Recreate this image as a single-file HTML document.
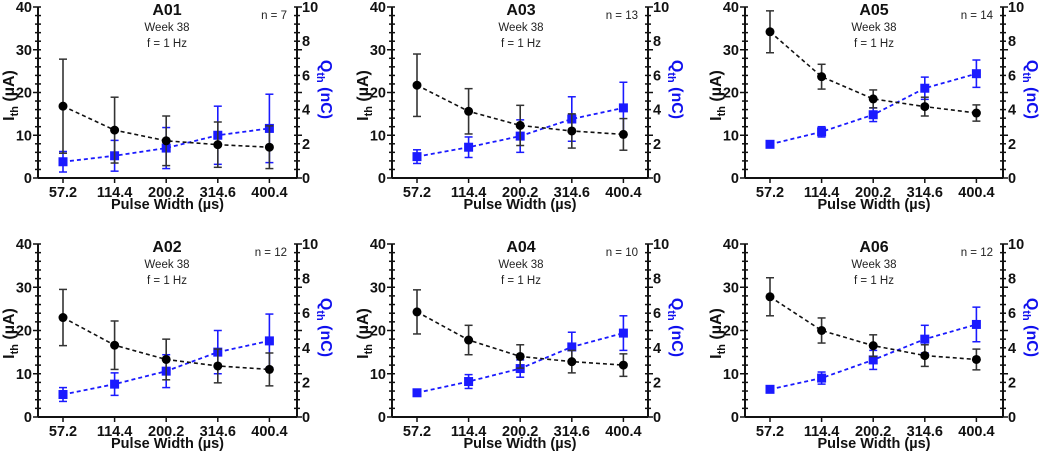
<!DOCTYPE html>
<html><head><meta charset="utf-8"><style>
html,body{margin:0;padding:0;background:#fff;}
svg{display:block;font-family:"Liberation Sans",Arial,sans-serif;}
</style></head><body>
<svg id="fig" width="1041" height="452" viewBox="0 0 1041 452"></svg>
<script>
const categories = ["57.2","114.4","200.2","314.6","400.4"];
const panelNames = ["A01","A02","A03","A04","A05","A06"];
const nCounts = [7,12,13,10,14,12];
const iMean = [
 [16.8,11.2,8.7,7.8,7.2],
 [23,16.6,13.3,11.8,11],
 [21.7,15.6,12.3,11,10.2],
 [24.3,17.8,14,12.8,12],
 [34.2,23.7,18.5,16.7,15.2],
 [27.8,20,16.5,14.2,13.3]];
const iErr = [
 [11,7.7,5.8,5.3,5],
 [6.5,5.6,4.7,3.9,3.8],
 [7.3,5.3,4.7,4,3.7],
 [5.1,3.4,2.7,2.6,2.6],
 [4.9,2.9,2.1,2.2,1.9],
 [4.4,2.9,2.5,2.5,2.4]];
const qMean = [
 [0.95,1.3,1.75,2.5,2.9],
 [1.3,1.9,2.65,3.75,4.4],
 [1.25,1.8,2.45,3.45,4.1],
 [1.4,2.05,2.8,4.05,4.85],
 [1.97,2.7,3.7,5.25,6.1],
 [1.6,2.25,3.3,4.5,5.35]];
const qErr = [
 [0.6,0.9,1.2,1.7,2.0],
 [0.4,0.65,0.95,1.25,1.55],
 [0.4,0.6,0.95,1.3,1.5],
 [0.2,0.4,0.5,0.85,1.0],
 [0.2,0.3,0.4,0.65,0.8],
 [0.1,0.35,0.55,0.8,1.0]];
const leftTicks = [0,10,20,30,40];
const rightTicks = [0,2,4,6,8,10];

const NS="http://www.w3.org/2000/svg";
const svg=document.getElementById('fig');
function mk(tag,attrs,parent,txt){const e=document.createElementNS(NS,tag);for(const k in attrs)e.setAttribute(k,attrs[k]);if(txt!==undefined)e.textContent=txt;(parent||svg).appendChild(e);return e;}

const lefts=[38,38,392,392,745,745];
const rights=[297,297,648,648,1003,1003];
const tops=[7,244,7,244,7,244];
const bottoms=[178,417,178,417,178,417];

panelNames.forEach((name,p)=>{
  const g=mk('g',{});
  
  
  const L=lefts[p],R=rights[p],T=tops[p],B=bottoms[p];
  const yI=v=>B-(v/40)*(B-T);
  const yQ=v=>B-(v/10)*(B-T);
  const xC=i=>L+25+i*51.6;
  const ax=mk('g',{},g);
  
  
  mk('line',{x1:L,y1:T,x2:L,y2:B,stroke:'#111','stroke-width':2},ax);
  mk('line',{x1:R,y1:T,x2:R,y2:B,stroke:'#111','stroke-width':2},ax);
  mk('line',{x1:L,y1:B,x2:R,y2:B,stroke:'#111','stroke-width':2},ax);
  for(let v=0;v<=40;v+=2){
    const y=yI(v),maj=v%10===0;
    mk('line',{x1:L-(maj?5:3),y1:y,x2:L+3,y2:y,stroke:'#111','stroke-width':1.5},ax);
    mk('line',{x1:R-3,y1:y,x2:R+(maj?5:3),y2:y,stroke:'#111','stroke-width':1.5},ax);
  }
  leftTicks.forEach(v=>{
    const t=mk('text',{x:L-6,y:yI(v)+5,'text-anchor':'end','font-size':14.5,'font-weight':'bold',fill:'#111'},ax,String(v));
    
    
  });
  rightTicks.forEach(v=>{
    const t=mk('text',{x:R+5,y:yQ(v)+5,'text-anchor':'start','font-size':14.5,'font-weight':'bold',fill:'#111'},ax,String(v));
    
    
  });
  categories.forEach((c,i)=>{
    mk('line',{x1:xC(i),y1:B,x2:xC(i),y2:B+5,stroke:'#111','stroke-width':1.5},ax);
    const t=mk('text',{x:xC(i),y:B+19,'text-anchor':'middle','font-size':14.5,'font-weight':'bold',fill:'#111'},ax,c);
    
    
  });
  const xl=mk('text',{x:(L+R)/2,y:B+31,'text-anchor':'middle','font-size':14.5,'font-weight':'bold',fill:'#111'},g,'Pulse Width (µs)');
  
  
  const yl=mk('text',{transform:`translate(${L-24},${(T+B)/2+3}) rotate(-90)`,'text-anchor':'middle','font-size':16,'font-weight':'bold',fill:'#111'},g);
  yl.innerHTML='I<tspan font-size="11" dy="4">th</tspan><tspan dy="-4"> (µA)</tspan>';
  
  
  const yr=mk('text',{transform:`translate(${R+24},${(T+B)/2-3}) rotate(90)`,'text-anchor':'middle','font-size':16,'font-weight':'bold',fill:'#1010ee'},g);
  yr.innerHTML='Q<tspan font-size="11" dy="4">th</tspan><tspan dy="-4"> (nC)</tspan>';
  
  
  const cx=L+129;
  const tt=mk('text',{x:cx,y:T+8,'text-anchor':'middle','font-size':16,'font-weight':'bold',fill:'#111'},g,name);
  
  
  const w=mk('text',{x:cx,y:T+24,'text-anchor':'middle','font-size':11.5,fill:'#222'},g,'Week 38');
  
  
  const f=mk('text',{x:cx,y:T+40,'text-anchor':'middle','font-size':11.5,fill:'#222'},g,'f = 1 Hz');
  
  
  const n=mk('text',{x:R-10,y:T+12,'text-anchor':'end','font-size':11.5,fill:'#222'},g,'n = '+nCounts[p]);
  
  
  const sQ=mk('g',{},g);
  
  
  const sI=mk('g',{},g);
  
  
  mk('polyline',{points:qMean[p].map((v,i)=>xC(i)+','+yQ(v)).join(' '),fill:'none',stroke:'#1a1aff','stroke-width':1.8,'stroke-dasharray':'4,3'},sQ);
  mk('polyline',{points:iMean[p].map((v,i)=>xC(i)+','+yI(v)).join(' '),fill:'none',stroke:'#111','stroke-width':1.6,'stroke-dasharray':'4,3'},sI);
  qMean[p].forEach((v,i)=>{
    const x=xC(i),y1=yQ(v+qErr[p][i]),y2=yQ(Math.max(0,v-qErr[p][i]));
    mk('line',{x1:x,y1:y1,x2:x,y2:y2,stroke:'#1a1aff','stroke-width':1.6},sQ);
    mk('line',{x1:x-4,y1:y1,x2:x+4,y2:y1,stroke:'#1a1aff','stroke-width':1.5},sQ);
    mk('line',{x1:x-4,y1:y2,x2:x+4,y2:y2,stroke:'#1a1aff','stroke-width':1.5},sQ);
    const r=mk('rect',{x:x-4.5,y:yQ(v)-4.5,width:9,height:9,fill:'#1a1aff'},sQ);
    
    
  });
  iMean[p].forEach((v,i)=>{
    const x=xC(i),y1=yI(v+iErr[p][i]),y2=yI(Math.max(0,v-iErr[p][i]));
    mk('line',{x1:x,y1:y1,x2:x,y2:y2,stroke:'#333','stroke-width':1.6},sI);
    mk('line',{x1:x-4,y1:y1,x2:x+4,y2:y1,stroke:'#333','stroke-width':1.5},sI);
    mk('line',{x1:x-4,y1:y2,x2:x+4,y2:y2,stroke:'#333','stroke-width':1.5},sI);
    const c=mk('circle',{cx:x,cy:yI(v),r:4.5,fill:'#000'},sI);
    
    
  });
});
</script>
</body></html>
